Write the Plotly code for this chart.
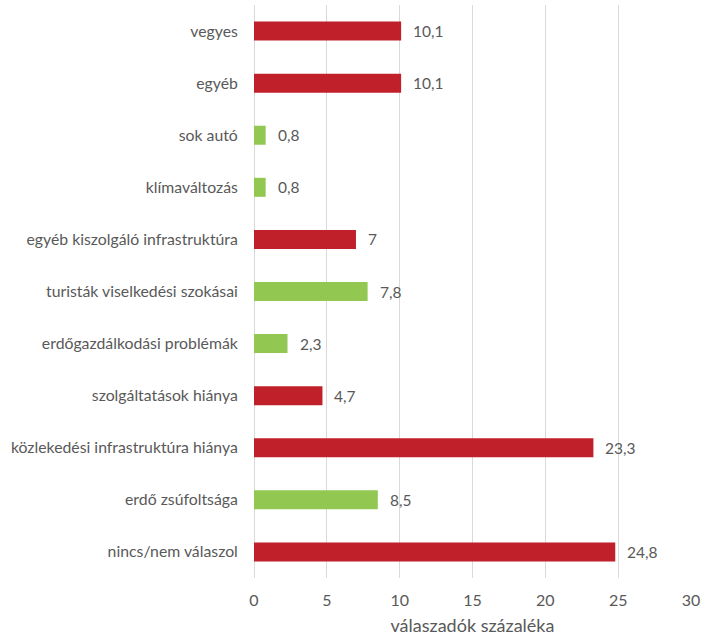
import plotly.graph_objects as go

# Survey responses, listed top to bottom
categories = [
    "vegyes",
    "egyéb",
    "sok autó",
    "klímaváltozás",
    "egyéb kiszolgáló infrastruktúra",
    "turisták viselkedési szokásai",
    "erdőgazdálkodási problémák",
    "szolgáltatások hiánya",
    "közlekedési infrastruktúra hiánya",
    "erdő zsúfoltsága",
    "nincs/nem válaszol",
]
values = [10.1, 10.1, 0.8, 0.8, 7, 7.8, 2.3, 4.7, 23.3, 8.5, 24.8]
groups = ["r", "r", "g", "g", "r", "g", "g", "r", "r", "g", "r"]
x_ticks = [0, 5, 10, 15, 20, 25, 30]

RED = "#C0202A"
GREEN = "#92C852"
TEXT = "#595959"
FONT = "Lato, 'Open Sans', sans-serif"

colors = [RED if g == "r" else GREEN for g in groups]

fig = go.Figure(
    go.Bar(
        x=values,
        y=categories,
        orientation="h",
        marker=dict(color=colors, line=dict(width=0)),
        width=0.365,
        hoverinfo="x+y",
    )
)

# value labels just to the right of each bar
for cat, v in zip(categories, values):
    label = (f"{v:g}").replace(".", ",")
    fig.add_annotation(
        x=v, y=cat, text=label, showarrow=False,
        xanchor="left", xshift=10,
        font=dict(family=FONT, size=15.5, color=TEXT),
    )

fig.update_layout(
    width=705,
    height=638,
    margin=dict(l=254, r=11, t=5, b=60),
    paper_bgcolor="white",
    plot_bgcolor="white",
    showlegend=False,
    separators=", ",
    font=dict(family=FONT, size=15.8, color=TEXT),
)
fig.update_xaxes(
    range=[0, 30],
    tickvals=x_ticks,
    showgrid=True,
    gridcolor="#D9D9D9",
    gridwidth=1,
    zeroline=True,
    zerolinecolor="#D9D9D9",
    zerolinewidth=1,
    showline=False,
    ticks="outside",
    ticklen=8,
    tickcolor="rgba(0,0,0,0)",
    tickfont=dict(family=FONT, size=16, color=TEXT),
    title=dict(text="válaszadók százaléka", font=dict(family=FONT, size=18, color=TEXT), standoff=11),
    fixedrange=True,
)
fig.update_yaxes(
    autorange="reversed",
    showgrid=False,
    zeroline=False,
    showline=False,
    ticks="outside",
    ticklen=12,
    tickcolor="rgba(0,0,0,0)",
    tickfont=dict(family=FONT, size=15.8, color=TEXT),
    fixedrange=True,
)

fig.write_html("out.html")
